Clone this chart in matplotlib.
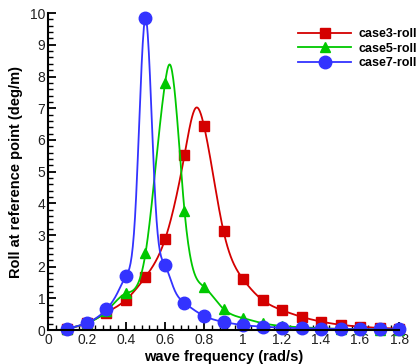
import numpy as np
import matplotlib
matplotlib.use('Agg')
import matplotlib.pyplot as plt
from matplotlib.ticker import MultipleLocator

plt.rcParams['font.family'] = ['Liberation Sans', 'DejaVu Sans']

# Frecuencias de ola (rad/s) y respuesta de roll (deg/m) para cada caso
freq = [0.1, 0.2, 0.3, 0.4, 0.5, 0.6, 0.7, 0.8, 0.9, 1.0, 1.1, 1.2, 1.3, 1.4, 1.5, 1.6, 1.7, 1.8]
case3_roll = [0.05, 0.22, 0.55, 0.96, 1.68, 2.86, 5.52, 6.44, 3.12, 1.61, 0.95, 0.63, 0.42, 0.27, 0.17, 0.11, 0.07, 0.05]
case5_roll = [0.05, 0.22, 0.60, 1.16, 2.42, 7.78, 3.76, 1.37, 0.67, 0.38, 0.22, 0.13, 0.09, 0.06, 0.04, 0.03, 0.02, 0.02]
case7_roll = [0.05, 0.23, 0.66, 1.71, 9.85, 2.05, 0.86, 0.45, 0.26, 0.16, 0.11, 0.08, 0.06, 0.05, 0.04, 0.03, 0.03, 0.03]

# Puntos intermedios de la curva (sin símbolo), cerca de la resonancia
case3_extra = {0.76: 7.02}
case5_extra = {0.625: 8.38}
case7_extra = {0.35: 1.10, 0.45: 3.97, 0.55: 4.15, 0.65: 1.25}

labels = ['case3-roll', 'case5-roll', 'case7-roll']
colors = ['#d40000', '#00c800', '#3333ff']
markers = ['s', '^', 'o']
msizes = [6.5, 7.5, 9]


def spline(x, y, n=600):
    """Spline cúbica natural para dibujar la curva suave entre los puntos."""
    x = np.asarray(x, float)
    y = np.asarray(y, float)
    k = len(x)
    h = np.diff(x)
    A = np.zeros((k, k))
    b = np.zeros(k)
    A[0, 0] = A[-1, -1] = 1
    for i in range(1, k - 1):
        A[i, i - 1] = h[i - 1]
        A[i, i] = 2 * (h[i - 1] + h[i])
        A[i, i + 1] = h[i]
        b[i] = 6 * ((y[i + 1] - y[i]) / h[i] - (y[i] - y[i - 1]) / h[i - 1])
    M = np.linalg.solve(A, b)
    xs = np.linspace(x[0], x[-1], n)
    idx = np.clip(np.searchsorted(x, xs) - 1, 0, k - 2)
    x0, x1 = x[idx], x[idx + 1]
    hh = x1 - x0
    a = (x1 - xs) / hh
    c = (xs - x0) / hh
    ys = (a * y[idx] + c * y[idx + 1]
          + ((a ** 3 - a) * M[idx] + (c ** 3 - c) * M[idx + 1]) * hh ** 2 / 6)
    return xs, ys


def merge(x, y, extra):
    pts = dict(zip(x, y))
    pts.update(extra)
    xs = sorted(pts)
    return xs, [pts[v] for v in xs]


fig = plt.figure(figsize=(4.17, 3.64), dpi=100)
ax = fig.add_axes([0.115, 0.093, 0.842, 0.871])

series = [case3_roll, case5_roll, case7_roll]
extras = [case3_extra, case5_extra, case7_extra]
for serie, ex, lab, col, mk, ms in zip(series, extras, labels, colors, markers, msizes):
    xs, ys = spline(*merge(freq, serie, ex))
    ax.plot(xs, ys, color=col, lw=1.3, clip_on=False)
    ax.plot(freq, serie, ls='none', marker=mk, ms=ms, color=col, clip_on=False)
    # entrada de leyenda con línea y marcador
    ax.plot([], [], color=col, lw=1.3, marker=mk, ms=ms, label=lab)

ax.set_xlim(0, 1.8)
ax.set_ylim(0, 10)
ax.spines['top'].set_visible(False)
ax.spines['right'].set_visible(False)
ax.spines['left'].set_linewidth(1.5)
ax.spines['bottom'].set_linewidth(1.5)

ax.xaxis.set_major_locator(MultipleLocator(0.2))
ax.xaxis.set_minor_locator(MultipleLocator(0.04))
ax.yaxis.set_major_locator(MultipleLocator(1))
ax.yaxis.set_minor_locator(MultipleLocator(0.2))
ax.xaxis.set_major_formatter(plt.FuncFormatter(lambda v, p: ('%g' % round(v, 2))))
ax.tick_params(which='major', direction='in', length=6, width=1.3, labelsize=10, pad=2, colors='black', labelcolor='#222222')
ax.tick_params(which='minor', direction='in', length=3.5, width=1.0)
ax.tick_params(top=False, right=False, which='both')

ax.set_xlabel('wave frequency (rad/s)', fontsize=10.5, fontweight='bold', labelpad=2)
ax.set_ylabel('Roll at reference point (deg/m)', fontsize=10.5, fontweight='bold', labelpad=5)

leg = ax.legend(loc='upper left', bbox_to_anchor=(0.697, 0.968), frameon=False, handlelength=4.3,
                handletextpad=0.6, labelspacing=0.2, borderaxespad=0,
                prop={'weight': 'bold', 'size': 9})

fig.savefig('out.png', dpi=100)
